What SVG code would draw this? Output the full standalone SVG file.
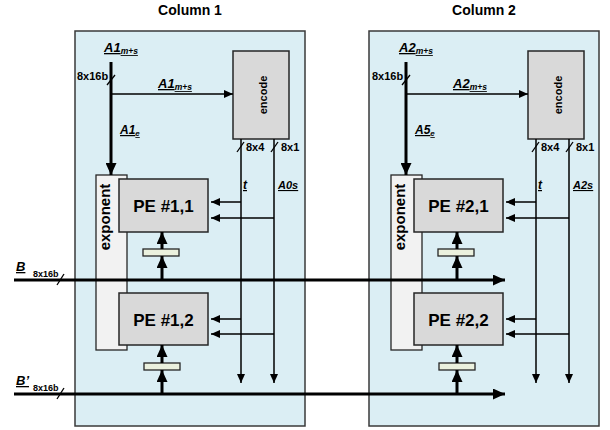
<svg xmlns="http://www.w3.org/2000/svg" width="610" height="430" viewBox="0 0 610 430">
<defs>
<style>
.panel{fill:#dbeef4;stroke:#3a3a3a;stroke-width:1.5}
.pe{fill:#d9d9d9;stroke:#262626;stroke-width:1.5}
.enc{fill:#d9d9d9;stroke:#262626;stroke-width:1.5}
.exp{fill:#f2f2f2;stroke:#262626;stroke-width:1.3}
.reg{fill:#ebf1de;stroke:#262626;stroke-width:1.3}
.thick{stroke:#000;stroke-width:3;fill:none}
.thin{stroke:#000;stroke-width:1.5;fill:none}
.slash{stroke:#000;stroke-width:1.3}
text{font-family:"Liberation Sans",Arial,sans-serif;font-weight:bold;fill:#000}
.title{font-size:14px;text-anchor:middle}
.lbl{font-style:italic;text-decoration:underline}
.pet{font-size:17px;text-anchor:middle}
.w{font-size:11px}
</style>
<marker id="ah" markerUnits="userSpaceOnUse" markerWidth="9" markerHeight="8" refX="9" refY="4" orient="auto"><path d="M0,0 L9,4 L0,8 Z" fill="#000"/></marker>
<marker id="ahT" markerUnits="userSpaceOnUse" markerWidth="12" markerHeight="11" refX="12" refY="5.5" orient="auto"><path d="M0,0 L12,5.5 L0,11 Z" fill="#000"/></marker>
</defs>

<text class="title" x="190" y="15">Column 1</text>
<text class="title" x="484" y="15">Column 2</text>

<g id="column1">
<rect class="panel" x="75" y="31" width="230" height="395"/>
</g>
<g id="column2">
<rect class="panel" x="369" y="31" width="230" height="395"/>
</g>

<g id="encode1"><rect class="enc" x="233" y="51" width="56" height="88"/><text font-size="11" text-anchor="middle" transform="translate(267,95) rotate(-90)">encode</text></g>
<g id="encode2"><rect class="enc" x="528" y="51" width="56" height="88"/><text font-size="11" text-anchor="middle" transform="translate(562,95) rotate(-90)">encode</text></g>

<g id="exponent1"><rect class="exp" x="96" y="175" width="31" height="175"/><text font-size="15" text-anchor="middle" transform="translate(110,217) rotate(-90)">exponent</text></g>
<g id="exponent2"><rect class="exp" x="391" y="175" width="31" height="175"/><text font-size="15" text-anchor="middle" transform="translate(405,217) rotate(-90)">exponent</text></g>

<g id="pe11"><rect class="pe" x="119" y="179" width="89" height="53"/><text class="pet" x="163.5" y="212">PE #1,1</text></g>
<g id="pe12"><rect class="pe" x="119" y="293" width="89" height="52"/><text class="pet" x="163.5" y="326">PE #1,2</text></g>
<g id="pe21"><rect class="pe" x="414" y="179" width="89" height="53"/><text class="pet" x="458.5" y="212">PE #2,1</text></g>
<g id="pe22"><rect class="pe" x="414" y="293" width="89" height="52"/><text class="pet" x="458.5" y="326">PE #2,2</text></g>

<g id="reg11"><rect class="reg" x="143" y="249" width="36" height="7"/></g>
<g id="reg12"><rect class="reg" x="144" y="363" width="36" height="7"/></g>
<g id="reg21"><rect class="reg" x="438" y="249" width="36" height="7"/></g>
<g id="reg22"><rect class="reg" x="439" y="363" width="36" height="7"/></g>

<g id="connectors">
<!-- column 1 -->
<line class="thick" x1="111" y1="62" x2="111" y2="175" marker-end="url(#ahT)"/>
<line class="thin" x1="111" y1="94" x2="233" y2="94" marker-end="url(#ah)"/>
<line class="thin" x1="241" y1="139" x2="241" y2="383" marker-end="url(#ah)"/>
<line class="thin" x1="274" y1="139" x2="274" y2="383" marker-end="url(#ah)"/>
<line class="thin" x1="241" y1="202" x2="211" y2="202" marker-end="url(#ah)"/>
<line class="thin" x1="274" y1="218" x2="211" y2="218" marker-end="url(#ah)"/>
<line class="thin" x1="241" y1="319" x2="211" y2="319" marker-end="url(#ah)"/>
<line class="thin" x1="274" y1="334" x2="211" y2="334" marker-end="url(#ah)"/>
<line class="thick" x1="162" y1="280" x2="162" y2="256" marker-end="url(#ahT)"/>
<line class="thick" x1="162" y1="249" x2="162" y2="232" marker-end="url(#ahT)"/>
<line class="thick" x1="162" y1="394" x2="162" y2="370" marker-end="url(#ahT)"/>
<line class="thick" x1="162" y1="363" x2="162" y2="345" marker-end="url(#ahT)"/>
<!-- column 2 -->
<line class="thick" x1="406" y1="62" x2="406" y2="175" marker-end="url(#ahT)"/>
<line class="thin" x1="406" y1="94" x2="528" y2="94" marker-end="url(#ah)"/>
<line class="thin" x1="536" y1="139" x2="536" y2="383" marker-end="url(#ah)"/>
<line class="thin" x1="569" y1="139" x2="569" y2="383" marker-end="url(#ah)"/>
<line class="thin" x1="536" y1="202" x2="506" y2="202" marker-end="url(#ah)"/>
<line class="thin" x1="569" y1="218" x2="506" y2="218" marker-end="url(#ah)"/>
<line class="thin" x1="536" y1="319" x2="506" y2="319" marker-end="url(#ah)"/>
<line class="thin" x1="569" y1="334" x2="506" y2="334" marker-end="url(#ah)"/>
<line class="thick" x1="457" y1="280" x2="457" y2="256" marker-end="url(#ahT)"/>
<line class="thick" x1="457" y1="249" x2="457" y2="232" marker-end="url(#ahT)"/>
<line class="thick" x1="457" y1="394" x2="457" y2="370" marker-end="url(#ahT)"/>
<line class="thick" x1="457" y1="363" x2="457" y2="345" marker-end="url(#ahT)"/>
<!-- B buses -->
<line class="thick" x1="14" y1="280" x2="505" y2="280" marker-end="url(#ahT)"/>
<line class="thick" x1="14" y1="394" x2="505" y2="394" marker-end="url(#ahT)"/>
<!-- width slashes -->
<line class="slash" x1="107" y1="85" x2="115" y2="75"/>
<line class="slash" x1="402" y1="85" x2="410" y2="75"/>
<line class="slash" x1="237" y1="152" x2="244" y2="142"/>
<line class="slash" x1="271" y1="152" x2="278" y2="142"/>
<line class="slash" x1="532" y1="152" x2="539" y2="142"/>
<line class="slash" x1="566" y1="152" x2="573" y2="142"/>
<line class="slash" x1="57" y1="285" x2="64" y2="274"/>
<line class="slash" x1="57" y1="399" x2="64" y2="388"/>
</g>

<g id="labels">
<text class="lbl" x="104" y="52" font-size="13">A1<tspan font-size="8.5" dy="2">m+s</tspan></text>
<text class="w" x="77" y="80">8x16b</text>
<text class="lbl" x="158" y="88" font-size="13">A1<tspan font-size="8.5" dy="2">m+s</tspan></text>
<text class="lbl" x="120" y="134" font-size="12">A1<tspan font-size="8" dy="2">e</tspan></text>
<text class="w" x="246" y="151">8x4</text>
<text class="w" x="281" y="151">8x1</text>
<text class="lbl" x="243" y="189" font-size="12">t</text>
<text class="lbl" x="278" y="189" font-size="11">A0s</text>

<text class="lbl" x="399" y="52" font-size="13">A2<tspan font-size="8.5" dy="2">m+s</tspan></text>
<text class="w" x="372" y="80">8x16b</text>
<text class="lbl" x="453" y="88" font-size="13">A2<tspan font-size="8.5" dy="2">m+s</tspan></text>
<text class="lbl" x="415" y="134" font-size="12">A5<tspan font-size="8" dy="2">e</tspan></text>
<text class="w" x="541" y="151">8x4</text>
<text class="w" x="576" y="151">8x1</text>
<text class="lbl" x="538" y="189" font-size="12">t</text>
<text class="lbl" x="573" y="189" font-size="11">A2s</text>

<text class="lbl" x="16" y="271" font-size="13">B</text>
<text x="33" y="277" font-size="9">8x16b</text>
<text class="lbl" x="16" y="385" font-size="13">B’</text>
<text x="33" y="391" font-size="9">8x16b</text>
</g>
</svg>
